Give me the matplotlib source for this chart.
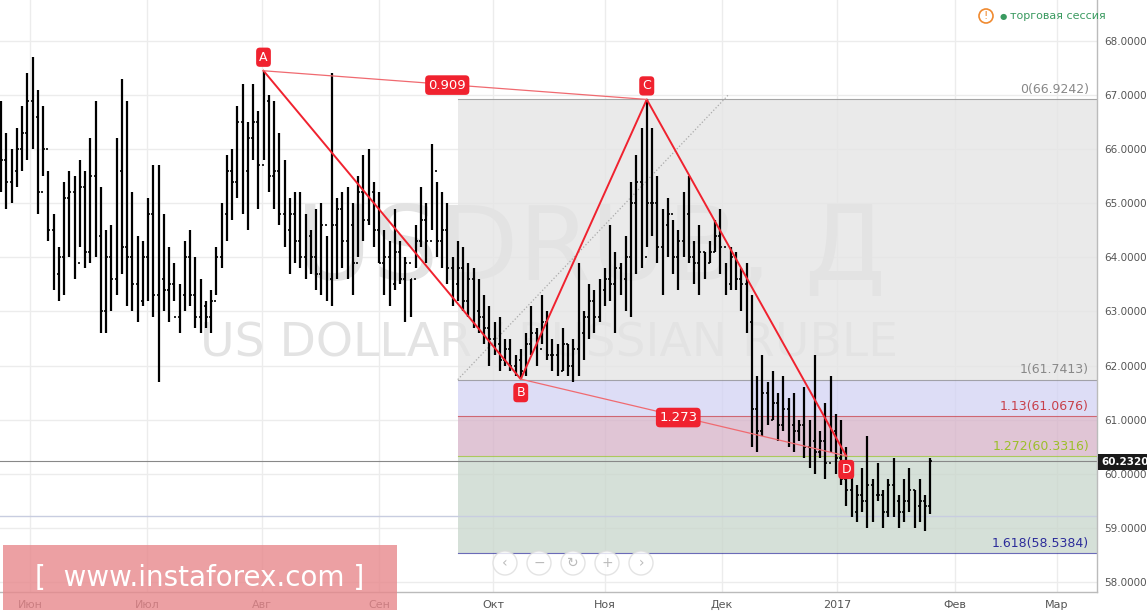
import numpy as np
import matplotlib
matplotlib.use("Agg")
import matplotlib.pyplot as plt
from matplotlib.patches import FancyBboxPatch, Circle

# --- Daily bars USDRUB (Jun 2016 - Jan 2017)
highs = [66.9,66.3,66.0,66.4,66.8,67.4,67.7,67.1,66.8,65.6,
         64.8,64.2,65.4,65.6,65.5,65.8,65.6,66.2,66.9,65.3,
         64.5,64.6,66.2,67.3,66.9,65.2,64.4,64.3,65.1,65.7,
         65.7,64.8,64.2,63.9,63.5,64.3,64.5,64.0,63.6,63.2,
         63.4,64.2,65.0,65.9,66.0,66.8,67.2,66.5,67.2,66.7,
         67.45,67.0,66.9,66.3,65.8,65.1,65.2,65.2,64.8,64.5,
         64.9,65.0,64.4,67.4,65.1,65.2,65.3,65.0,65.5,65.9,
         66.0,65.4,65.2,64.5,64.3,64.9,64.3,64.0,63.6,64.6,
         65.3,65.0,66.1,65.4,65.2,65.0,64.0,64.3,64.2,63.9,
         63.8,63.6,63.3,63.1,62.8,62.9,62.5,62.5,62.2,62.3,
         62.6,63.1,62.7,63.3,63.0,62.5,62.4,62.7,62.4,62.5,
         63.9,63.0,63.5,63.4,63.6,63.8,64.6,64.1,63.9,64.4,
         65.4,65.9,66.4,66.92,66.4,65.5,64.9,65.1,64.7,64.5,
         65.2,65.5,64.3,64.6,64.1,64.3,64.7,64.9,63.9,64.2,
         64.1,63.8,63.9,63.3,61.8,62.2,61.7,61.9,61.5,61.8,
         61.4,61.5,61.0,61.6,61.0,62.2,60.8,61.3,61.8,61.1,
         61.0,60.5,60.1,59.8,60.1,60.7,59.9,60.2,59.7,59.9,
         60.3,59.6,59.9,60.1,59.7,59.9,59.6,60.3]
lows = [65.2,64.9,65.0,65.3,65.6,65.8,66.0,64.8,65.5,64.3,
        63.4,63.2,63.3,64.0,63.6,64.2,63.8,63.9,64.0,62.6,
        62.6,63.0,63.3,63.7,63.1,63.0,62.8,63.1,63.2,62.9,
        61.7,63.0,62.8,63.2,62.6,63.0,63.1,62.7,62.6,62.7,
        62.6,63.3,63.8,64.3,64.7,65.1,64.8,64.5,65.8,64.9,
        65.8,65.2,64.9,64.6,64.2,63.7,63.9,63.8,63.6,63.7,
        63.4,63.3,63.2,63.1,63.6,63.8,63.6,63.3,64.0,64.3,
        64.6,64.2,63.9,63.3,63.1,63.4,63.5,62.8,62.9,63.8,
        64.2,63.9,64.5,64.0,63.8,63.5,63.1,63.2,63.0,62.9,
        62.7,62.6,62.4,62.0,62.2,61.9,62.0,61.9,61.8,61.75,
        61.8,62.2,62.0,62.4,62.1,61.9,61.8,61.9,61.8,61.7,
        61.8,62.1,62.5,62.6,62.8,63.1,63.2,62.6,63.3,63.0,
        62.9,63.7,63.8,64.2,64.4,63.9,63.3,64.0,63.7,63.4,
        64.0,63.9,63.5,63.3,63.6,63.9,64.1,63.7,63.3,63.4,
        63.4,63.0,62.6,60.5,60.4,60.7,60.9,61.0,60.6,60.8,
        60.5,60.4,60.6,60.3,60.1,60.0,60.3,59.9,60.4,60.0,
        59.8,59.4,59.2,59.1,59.3,59.0,59.1,59.5,59.0,59.2,
        59.2,59.0,59.1,59.3,59.0,59.1,58.95,59.25]
closes = [65.8,65.4,65.6,66.0,66.3,66.9,66.6,65.2,66.0,64.5,
          63.7,64.0,65.1,65.2,63.9,65.3,64.1,65.5,64.4,63.0,
          64.0,63.6,65.6,64.2,64.0,63.5,63.2,64.0,64.8,63.3,
          63.6,63.4,63.5,62.9,63.3,64.0,63.3,62.9,63.1,62.9,
          63.2,64.0,64.8,65.6,65.4,66.5,65.6,66.2,66.5,65.7,
          66.9,65.5,65.6,64.8,64.5,64.8,64.3,64.0,64.4,64.0,
          63.7,64.6,63.6,64.6,64.9,64.3,64.6,63.9,65.2,64.7,
          65.2,64.5,63.9,64.0,63.5,64.1,63.6,63.9,63.6,64.3,
          64.7,64.3,65.6,64.3,64.5,63.8,63.5,63.8,63.2,63.6,
          63.0,62.9,62.7,62.5,62.4,62.1,62.3,62.0,62.1,61.9,
          62.4,62.6,62.3,62.8,62.2,62.2,61.9,62.4,62.0,62.3,
          62.6,62.9,63.2,62.9,63.4,63.6,63.5,63.8,63.6,64.0,
          65.0,65.4,64.0,65.0,65.0,64.2,64.6,64.8,64.0,64.3,
          64.8,64.0,63.9,64.1,63.9,64.1,64.4,64.2,63.5,64.0,
          63.6,63.5,62.8,61.2,60.8,61.5,61.0,61.3,60.9,61.2,
          60.9,60.8,60.9,60.5,60.6,60.4,60.6,60.2,60.8,60.3,
          59.9,59.7,59.3,59.6,59.5,59.8,59.6,59.6,59.3,59.8,
          59.5,59.3,59.5,59.7,59.4,59.5,59.4,60.232]
opens = [66.2] + closes[:-1]

# XABCD pattern points (bar index, price)
pat_idx = [50, 99, 123, 161]
pat_val = [67.45, 61.75, 66.92, 60.33]
pat_lbl = ["A", "B", "C", "D"]

# fib levels
fib_ratio = ["0", "1", "1.13", "1.272", "1.618"]
fib_val = [66.9242, 61.7413, 61.0676, 60.3316, 58.5384]
fib_col = ["#888888", "#888888", "#c8404a", "#9cbf2a", "#2c2c9a"]
fib_fill = ["#e4e4e4", "#d2d2f4", "#d6b2c8", "#c8d6cb"]

month_px = [30, 147, 262, 379, 493, 605, 722, 837, 955, 1057]
month_lbl = ["Июн", "Июл", "Авг", "Сен", "Окт", "Ноя", "Дек", "2017", "Фев", "Мар"]
last_price = 60.2320

W, H = 1147, 613
fig = plt.figure(figsize=(W / 100, H / 100), dpi=100)
ax = fig.add_axes([0, 1 - 592 / H, 1097 / W, 592 / H])
bar_w = 5.25
ax.set_xlim(-1 / bar_w, 1096 / bar_w)
ax.set_ylim(57.815, 68.758)

# grid
for y in range(58, 69):
    ax.axhline(y, color="#ececec", lw=1, zorder=0)
for p in month_px:
    ax.axvline((p - 1) / bar_w, color="#ececec", lw=1, zorder=0)

# watermark
ax.text(590 / bar_w, 64.1, "USDRUB, Д", fontsize=75, color="#e3e3e3", ha="center",
        va="center", zorder=0.5)
ax.text(548 / bar_w, 62.4, "US DOLLAR / RUSSIAN RUBLE", fontsize=34, color="#e3e3e3",
        ha="center", va="center", zorder=0.5)

# fib boxes
x0 = 87
x1 = 1096 / bar_w
for k in range(4):
    ax.fill_between([x0, x1], fib_val[k + 1], fib_val[k], color=fib_fill[k], alpha=0.75,
                    lw=0, zorder=1)
for k in range(5):
    ax.plot([x0, x1], [fib_val[k]] * 2, color=fib_col[k], lw=0.8, alpha=0.7, zorder=1.2)
    ax.text(1088 / bar_w, fib_val[k] + 0.06, f"{fib_ratio[k]}({fib_val[k]:.4f})",
            color=fib_col[k], fontsize=9, ha="right", va="bottom", zorder=5)
ax.plot([x0, 138.5], [fib_val[1], 67.0], color="#aaaaaa", lw=0.9, ls=":", zorder=1.3)

# horizontal lines
ax.axhline(59.22, color="#c8cde0", lw=1, zorder=1.1)
ax.axhline(last_price, color="#888888", lw=0.8, zorder=1.1)

# OHLC bars
idx = np.arange(len(highs))
ax.vlines(idx, lows, highs, color="black", lw=1.6, zorder=3)
ax.hlines(opens, idx - 0.35, idx, color="black", lw=1.2, zorder=3)
ax.hlines(closes, idx, idx + 0.35, color="black", lw=1.2, zorder=3)

# pattern
ax.plot(pat_idx, pat_val, color="#f0222f", lw=1.4, zorder=4)
ax.plot([pat_idx[0], pat_idx[2]], [pat_val[0], pat_val[2]], color="#f06a70", lw=0.9, zorder=4)
ax.plot([pat_idx[1], pat_idx[3]], [pat_val[1], pat_val[3]], color="#f06a70", lw=0.9, zorder=4)
box = dict(boxstyle="round,pad=0.25,rounding_size=0.3", fc="#f0222f", ec="none")
offs = [0.25, -0.25, 0.25, -0.25]
for i, v, l, o in zip(pat_idx, pat_val, pat_lbl, offs):
    ax.text(i, v + o, l, color="white", fontsize=9, ha="center", va="center",
            bbox=box, zorder=6)
ax.text((pat_idx[0] + pat_idx[2]) / 2 - 1.5, (pat_val[0] + pat_val[2]) / 2, "0.909",
        color="white", fontsize=9.5, ha="center", va="center", bbox=box, zorder=6)
ax.text((pat_idx[1] + pat_idx[3]) / 2 - 1, (pat_val[1] + pat_val[3]) / 2, "1.273",
        color="white", fontsize=9.5, ha="center", va="center", bbox=box, zorder=6)

# axes styling
for s in ax.spines.values():
    s.set_visible(False)
ax.yaxis.tick_right()
ax.set_yticks(range(58, 69))
ax.set_yticklabels([f"{v:.4f}" for v in range(58, 69)], fontsize=7.5, color="#555555")
ax.set_xticks([(p - 1) / bar_w for p in month_px])
ax.set_xticklabels(month_lbl, fontsize=8, color="#555555")
ax.tick_params(length=0, pad=6)
ax.tick_params(axis="y", pad=5)
ax.plot([1, 1], [0, 1], transform=ax.transAxes, color="#bbbbbb", lw=1, clip_on=False)
ax.plot([0, 1], [0, 0], transform=ax.transAxes, color="#bbbbbb", lw=1, clip_on=False)

# last price tag
fig.text(1101 / W, 1 - 462 / H, "60.2320", fontsize=7.5, color="white", va="center",
         ha="left", fontweight="bold",
         bbox=dict(boxstyle="square,pad=0.25", fc="#1a1a1a", ec="none"))

# session info top right
fig.text(1010 / W, 1 - 16 / H, "торговая сессия", fontsize=8, color="#3a9a60", va="center")
fig.patches.append(Circle((986, H - 16), 7, transform=None, fc="white",
                          ec="#f08a30", lw=1.2))
fig.text(986 / W, 1 - 16 / H, "!", fontsize=8, color="#f08a30", ha="center", va="center")
fig.text(1003 / W, 1 - 16 / H, "●", fontsize=6, color="#3a9a60", ha="center", va="center")

# toolbar circles
for k, sym in enumerate(["‹", "−", "↻", "+", "›"]):
    cx = 505 + k * 34
    fig.patches.append(Circle((cx, H - 563), 12, transform=None, fc="white",
                              ec="#dddddd", lw=1, alpha=0.8))
    fig.text(cx / W, 1 - 563 / H, sym, fontsize=10, color="#bbbbbb", ha="center", va="center")

# logo
fig.patches.append(FancyBboxPatch((3, H - 610), 394, 65, boxstyle="square,pad=0",
                                  transform=None, fc="#e8888c", ec="none", alpha=0.8))
fig.text(200 / W, 1 - 578 / H, "[  www.instaforex.com ]", fontsize=20, color="white",
         ha="center", va="center")

fig.savefig("out.png", dpi=100)
